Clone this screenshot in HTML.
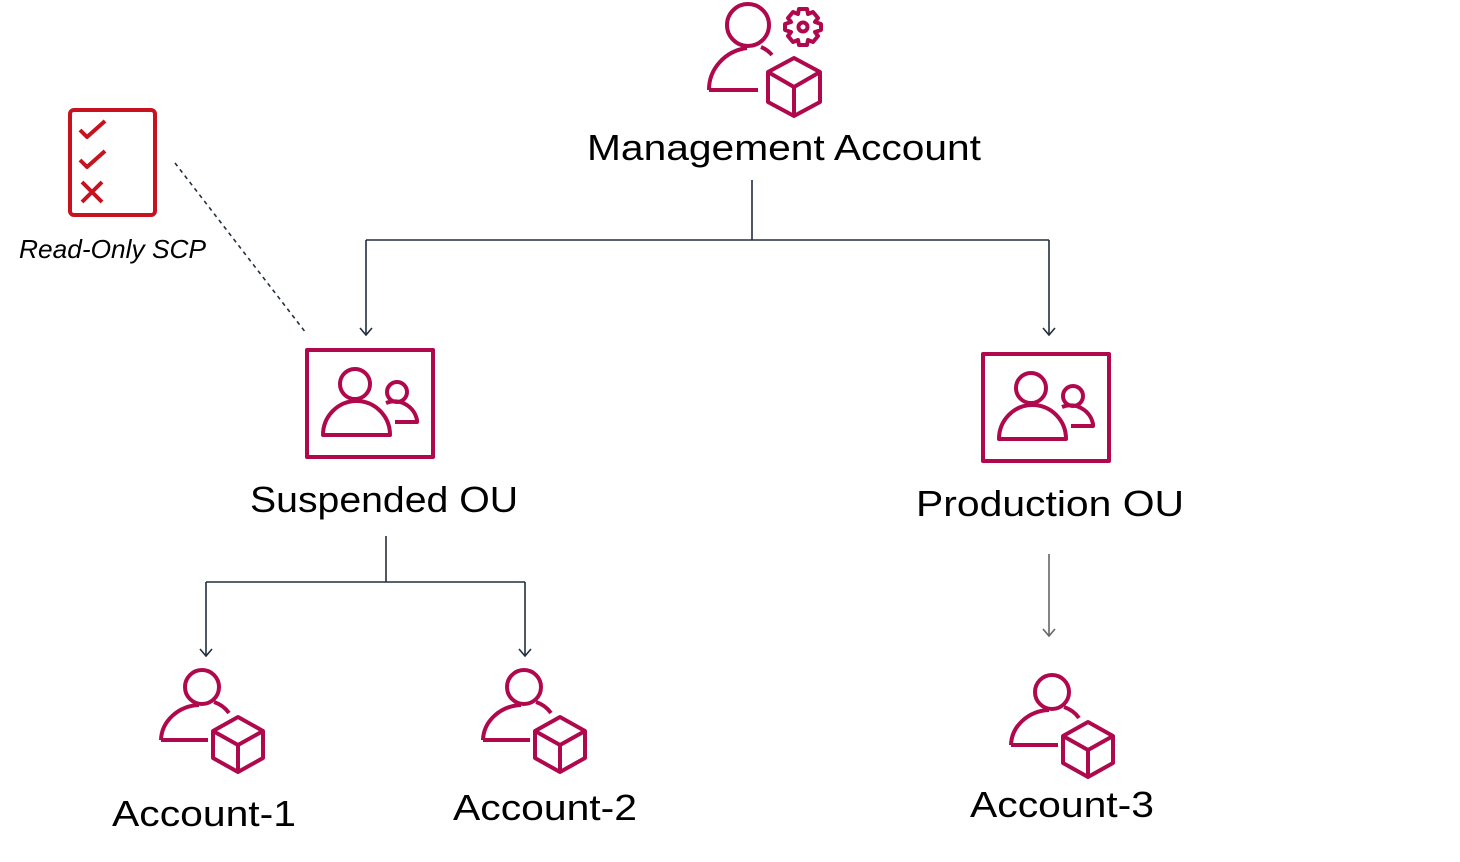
<!DOCTYPE html>
<html><head><meta charset="utf-8"><style>
html,body{margin:0;padding:0;background:#fff;}
svg{display:block;}
text{font-family:"Liberation Sans","DejaVu Sans",sans-serif;fill:#000;}
</style></head><body>
<svg width="1460" height="862" viewBox="0 0 1460 862" xmlns="http://www.w3.org/2000/svg">
<defs>
<g id="acct" fill="none" stroke="#B0084D" stroke-width="4" stroke-linejoin="round">
  <circle cx="0" cy="0" r="17"/>
  <path d="M -41 53 A 40 36 0 0 1 -3 18 M 12 15 A 30 30 0 0 1 27 26"/>
  <path d="M -41 53 L 6 53"/>
  <path d="M 36 30 L 61 44 L 61 71 L 36 85 L 11 71 L 11 44 Z M 11 44 L 36 58 L 61 44 M 36 58 L 36 85"/>
</g>
<g id="ou" fill="none" stroke="#B0084D" stroke-width="4" stroke-linejoin="round">
  <rect x="2" y="2" width="126" height="107"/>
  <circle cx="50" cy="36" r="15"/>
  <path d="M 18 87 A 33.5 34 0 0 1 85 87 Z"/>
  <circle cx="92" cy="44" r="10"/>
  <path d="M 81 55 A 23 23 0 0 1 112 72 L 112 74 L 90 74"/>
</g>
<g id="arr" fill="none" stroke="#232F3E" stroke-width="1.6">
  <path d="M -6 -7 L 0 0 L 6 -7"/>
</g>
</defs>

<!-- Management account icon -->
<g fill="none" stroke="#B0084D" stroke-width="4" stroke-linejoin="round">
  <circle cx="748" cy="25" r="21"/>
  <path d="M 709 90 A 44 42 0 0 1 747 48 M 761 47 A 30 30 0 0 1 772 55"/>
  <path d="M 709 90 L 758 90"/>
  <path d="M 794 58 L 820 72 L 820 102 L 794 116 L 768 102 L 768 72 Z M 768 72 L 794 87 L 820 72 M 794 87 L 794 116"/>
  <circle cx="803" cy="27" r="4.5"/>
  <path d="M 799 9 L 807 9 L 808 14 L 813 12 L 818 18 L 815 22 L 821 24 L 821 30 L 815 32 L 818 36 L 813 42 L 808 40 L 807 45 L 799 45 L 798 40 L 793 42 L 788 36 L 791 32 L 785 30 L 785 24 L 791 22 L 788 18 L 793 12 L 798 14 Z"/>
</g>
<text x="784" y="160" font-size="36" text-anchor="middle" textLength="394" lengthAdjust="spacingAndGlyphs">Management Account</text>

<!-- SCP icon -->
<g fill="none" stroke="#C7131F" stroke-width="4" stroke-linejoin="round">
  <rect x="70" y="110" width="85" height="105" rx="4"/>
  <path d="M 80 130 L 87 137 L 105 121 M 80 160 L 87 167 L 105 151 M 82 182 L 102 202 M 102 182 L 82 202"/>
</g>
<text x="19" y="258" font-size="26" font-style="italic" textLength="187" lengthAdjust="spacingAndGlyphs">Read-Only SCP</text>
<line x1="175" y1="163" x2="306" y2="333" stroke="#232F3E" stroke-width="1.6" stroke-dasharray="4,4"/>

<!-- connectors -->
<g fill="none" stroke="#232F3E" stroke-width="1.6">
  <path d="M 752 180 L 752 240 M 366 240 L 1049 240 M 366 240 L 366 335 M 1049 240 L 1049 335"/>
  <path d="M 386 536 L 386 582 M 206 582 L 525 582 M 206 582 L 206 656 M 525 582 L 525 656"/>
</g>
<line x1="1049" y1="554" x2="1049" y2="636" stroke="#666" stroke-width="1.6"/>
<use href="#arr" x="366" y="335"/>
<use href="#arr" x="1049" y="335"/>
<use href="#arr" x="206" y="656"/>
<use href="#arr" x="525" y="656"/>
<g transform="translate(1049,636)" fill="none" stroke="#666" stroke-width="1.6"><path d="M -6 -7 L 0 0 L 6 -7"/></g>

<!-- OUs -->
<use href="#ou" x="305" y="348"/>
<text x="384" y="512" font-size="36" text-anchor="middle" textLength="268" lengthAdjust="spacingAndGlyphs">Suspended OU</text>
<use href="#ou" x="981" y="352"/>
<text x="1050" y="516" font-size="36" text-anchor="middle" textLength="268" lengthAdjust="spacingAndGlyphs">Production OU</text>

<!-- Accounts -->
<use href="#acct" x="202" y="687"/>
<text x="204" y="826" font-size="36" text-anchor="middle" textLength="184" lengthAdjust="spacingAndGlyphs">Account-1</text>
<use href="#acct" x="524" y="687"/>
<text x="545" y="820" font-size="36" text-anchor="middle" textLength="184" lengthAdjust="spacingAndGlyphs">Account-2</text>
<use href="#acct" x="1052" y="692"/>
<text x="1062" y="817" font-size="36" text-anchor="middle" textLength="184" lengthAdjust="spacingAndGlyphs">Account-3</text>
</svg>
</body></html>
